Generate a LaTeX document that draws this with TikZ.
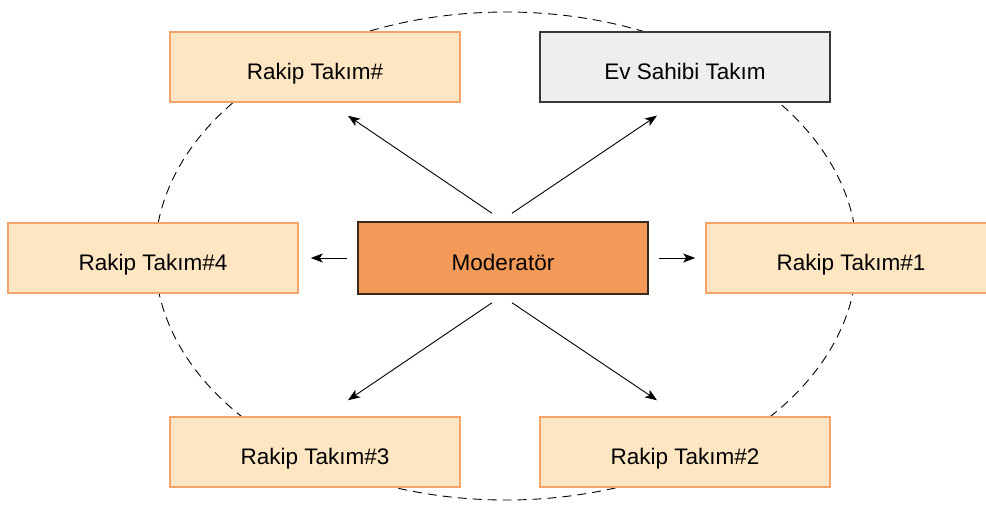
\documentclass[tikz,border=0pt]{standalone}
\usepackage{fontspec}
\setmainfont{Liberation Sans}
\usepackage{xcolor}
\usepackage{tikz}
\usetikzlibrary{arrows.meta}
\definecolor{teamfill}{HTML}{FFE6C2}
\definecolor{teamdraw}{HTML}{F4A46A}
\definecolor{hostfill}{HTML}{EEEEEE}
\definecolor{hostdraw}{HTML}{36393D}
\definecolor{modfill}{HTML}{F49A58}
\definecolor{moddraw}{HTML}{3A2A1E}
\tikzset{
    team/.style={
           rectangle,
           fill=teamfill,
           draw=teamdraw, line width=1.5pt,
           minimum width=290pt,
           minimum height=70pt,
           inner sep=2pt,
           text height=24pt,
           text depth=0pt,
           text centered,
           font=\fontsize{22.5}{26}\selectfont,
           },
     host/.style={
           team,
           fill=hostfill,
           draw=hostdraw, line width=1.2pt,
           },
     moderator/.style={
           team,
           fill=modfill,
           draw=moddraw, line width=1.5pt,
           minimum height=72pt,
           },
     link/.style={
           -{Stealth[length=12pt,width=9pt,inset=3pt]},
           line width=0.9pt,
           },
}

\begin{document}
\begin{tikzpicture}[x=1pt,y=-1pt]
	\useasboundingbox (0,0) rectangle (986,504);
	% ring round the teams
	\draw[dash pattern=on 9pt off 6pt, line width=0.9pt] (506,256) ellipse [x radius=351pt, y radius=244pt];

	\node[moderator] (mod) at (503,258) {Moderatör};
	\node[team] (rakip) at (315,67) {Rakip Takım\#};
	\node[host] (ev) at (685,67) {Ev Sahibi Takım};
	\node[team] (rakip4) at (153,258) {Rakip Takım\#4};
	\node[team] (rakip1) at (851,258) {Rakip Takım\#1};
	\node[team] (rakip3) at (315,452) {Rakip Takım\#3};
	\node[team] (rakip2) at (685,452) {Rakip Takım\#2};

	\draw[link] ([xshift=-11pt,yshift=8pt]mod.north) -- ([xshift=33pt,yshift=-13pt]rakip.south);
	\draw[link] ([xshift=9pt,yshift=8pt]mod.north) -- ([xshift=-28pt,yshift=-13pt]ev.south);
	\draw[link] ([xshift=-10pt]mod.west) -- ([xshift=12pt]rakip4.east);
	\draw[link] ([xshift=10pt]mod.east) -- ([xshift=-10pt]rakip1.west);
	\draw[link] ([xshift=-11pt,yshift=-8pt]mod.south) -- ([xshift=33pt,yshift=16pt]rakip3.north);
	\draw[link] ([xshift=9pt,yshift=-8pt]mod.south) -- ([xshift=-28pt,yshift=16pt]rakip2.north);
\end{tikzpicture}
\end{document}
